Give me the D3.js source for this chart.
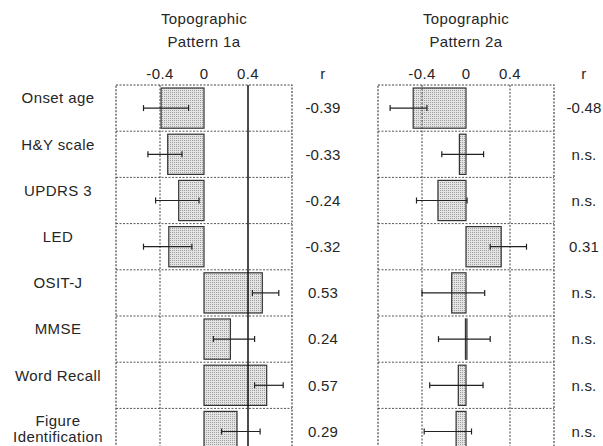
<!DOCTYPE html>
<html lang="en">

<head>
    <meta charset="UTF-8">
    <title>Topographic patterns</title>
    <script src="https://d3js.org/d3.v7.min.js"></script>
    <style>
        body {
            margin: 0;
            background: #fff;
        }

        text {
            font-family: "Liberation Sans", Arial, sans-serif;
            font-size: 15px;
            letter-spacing: 0.4px;
            fill: #262626;
        }

        text.rv {
            letter-spacing: 0.2px;
        }
    </style>
</head>

<body>
    <svg width="603" height="446"></svg>

    <script>
        // row labels (last one wraps)
        const variables = ["Onset age", "H&Y scale", "UPDRS 3", "LED", "OSIT-J", "MMSE", "Word Recall", "Figure|Identification"];
        const tickValues = [-0.4, 0, 0.4];
        const tickLabels = ["-0.4", "0", "0.4"];

        // pattern 1a
        const r1 = [-0.39, -0.33, -0.23, -0.32, 0.53, 0.24, 0.57, 0.30];
        const lo1 = [-0.55, -0.51, -0.44, -0.55, 0.44, 0.085, 0.46, 0.16];
        const hi1 = [-0.14, -0.20, -0.045, -0.11, 0.68, 0.46, 0.72, 0.51];
        const rLabels1 = ["-0.39", "-0.33", "-0.24", "-0.32", "0.53", "0.24", "0.57", "0.29"];

        // pattern 2a
        const r2 = [-0.48, -0.06, -0.255, 0.32, -0.13, -0.005, -0.07, -0.09];
        const lo2 = [-0.69, -0.22, -0.45, 0.22, -0.40, -0.25, -0.33, -0.38];
        const hi2 = [-0.355, 0.16, 0.01, 0.55, 0.17, 0.22, 0.155, 0.05];
        const rLabels2 = ["-0.48", "n.s.", "n.s.", "0.31", "n.s.", "n.s.", "n.s.", "n.s."];

        let svg = d3.select("svg");

        const topY = 85, rowH = 46.2;
        let y = d3.scaleBand()
            .domain(d3.range(variables.length))
            .range([topY, topY + rowH * variables.length])
            .paddingInner(0).paddingOuter(0);

        // halftone-ish fill for the bars
        let defs = svg.append("defs");
        let pat = defs.append("pattern")
            .attr("id", "dots")
            .attr("width", 2).attr("height", 2)
            .attr("patternUnits", "userSpaceOnUse");
        pat.append("rect").attr("width", 2).attr("height", 2).attr("fill", "#e4e4e4");
        pat.append("rect").attr("width", 1).attr("height", 1).attr("fill", "#a0a0a0");

        // row labels
        variables.forEach(function (v, i) {
            let lines = v.split("|");
            let cy = y(i) + y.bandwidth() / 2;
            if (lines.length == 1) {
                svg.append("text").attr("x", 58).attr("y", cy - 10)
                    .attr("text-anchor", "middle").attr("dy", "0.35em").text(v);
            } else {
                svg.append("text").attr("x", 58).attr("y", cy - 11)
                    .attr("text-anchor", "middle").attr("dy", "0.35em").text(lines[0]);
                // second line sits right on the bottom edge
                svg.append("text").attr("x", 58).attr("y", 442)
                    .attr("text-anchor", "middle").text(lines[1]);
            }
        });

        function panel(x0, x1, title, r, lo, hi, rLabels, rx, solidRight) {
            let x = d3.scaleLinear().domain([-0.8, 0.8]).range([x0, x1]);
            let g = svg.append("g");
            let yb = topY + rowH * variables.length;

            // title
            g.append("text").attr("x", x(0)).attr("y", 19).attr("dy", "0.35em")
                .attr("text-anchor", "middle").text("Topographic");
            g.append("text").attr("x", x(0)).attr("y", 42).attr("dy", "0.35em")
                .attr("text-anchor", "middle").text(title);

            // ticks on top
            g.selectAll(".tick").data(tickValues).enter().append("text")
                .attr("x", d => x(d)).attr("y", 74).attr("dy", "0.35em")
                .attr("text-anchor", "middle")
                .text((d, i) => tickLabels[i]);

            g.append("text").attr("x", rx).attr("y", 74).attr("dy", "0.35em")
                .attr("text-anchor", "middle").text("r");

            // row separators
            g.selectAll(".sep").data(d3.range(1, variables.length)).enter().append("line")
                .attr("x1", x0).attr("x2", x1)
                .attr("y1", d => y(d)).attr("y2", d => y(d))
                .attr("stroke", "#555").attr("stroke-width", 1)
                .attr("stroke-dasharray", "2,1.5");

            // bars
            g.selectAll(".bar").data(r).enter().append("rect")
                .attr("x", d => x(Math.min(0, d)))
                .attr("width", d => Math.max(1.5, Math.abs(x(d) - x(0))))
                .attr("y", (d, i) => y(i) + 3)
                .attr("height", y.bandwidth() - 6)
                .attr("fill", "url(#dots)")
                .attr("stroke", "#333").attr("stroke-width", 1.2);

            // vertical grid lines
            g.selectAll(".vg").data(tickValues.filter(d => d != 0)).enter().append("line")
                .attr("x1", d => x(d)).attr("x2", d => x(d))
                .attr("y1", topY).attr("y2", yb)
                .attr("stroke", (d) => (solidRight && d > 0) ? "#111" : "#444")
                .attr("stroke-width", (d) => (solidRight && d > 0) ? 1.5 : 1)
                .attr("stroke-dasharray", (d) => (solidRight && d > 0) ? null : "2,1.5");

            // frame
            g.append("rect").attr("x", x0).attr("y", topY)
                .attr("width", x1 - x0).attr("height", yb - topY)
                .attr("fill", "none").attr("stroke", "#444").attr("stroke-width", 1.2)
                .attr("stroke-dasharray", "2,1.5");

            // error bars
            let eb = g.selectAll(".err").data(r).enter().append("g");
            eb.append("line")
                .attr("x1", (d, i) => x(lo[i])).attr("x2", (d, i) => x(hi[i]))
                .attr("y1", (d, i) => y(i) + y.bandwidth() / 2)
                .attr("y2", (d, i) => y(i) + y.bandwidth() / 2)
                .attr("stroke", "#222").attr("stroke-width", 1.2);
            eb.append("line")
                .attr("x1", (d, i) => x(lo[i])).attr("x2", (d, i) => x(lo[i]))
                .attr("y1", (d, i) => y(i) + y.bandwidth() / 2 - 3)
                .attr("y2", (d, i) => y(i) + y.bandwidth() / 2 + 3)
                .attr("stroke", "#222").attr("stroke-width", 1.2);
            eb.append("line")
                .attr("x1", (d, i) => x(hi[i])).attr("x2", (d, i) => x(hi[i]))
                .attr("y1", (d, i) => y(i) + y.bandwidth() / 2 - 3)
                .attr("y2", (d, i) => y(i) + y.bandwidth() / 2 + 3)
                .attr("stroke", "#222").attr("stroke-width", 1.2);

            // r values
            g.selectAll(".rv").data(rLabels).enter().append("text")
                .attr("class", "rv")
                .attr("x", rx).attr("y", (d, i) => y(i) + y.bandwidth() / 2)
                .attr("dy", "0.35em").attr("text-anchor", "middle")
                .text(d => d);
        }

        panel(116, 292, "Pattern 1a", r1, lo1, hi1, rLabels1, 323, true);
        panel(378, 554, "Pattern 2a", r2, lo2, hi2, rLabels2, 584, false);
    </script>
</body>

</html>
